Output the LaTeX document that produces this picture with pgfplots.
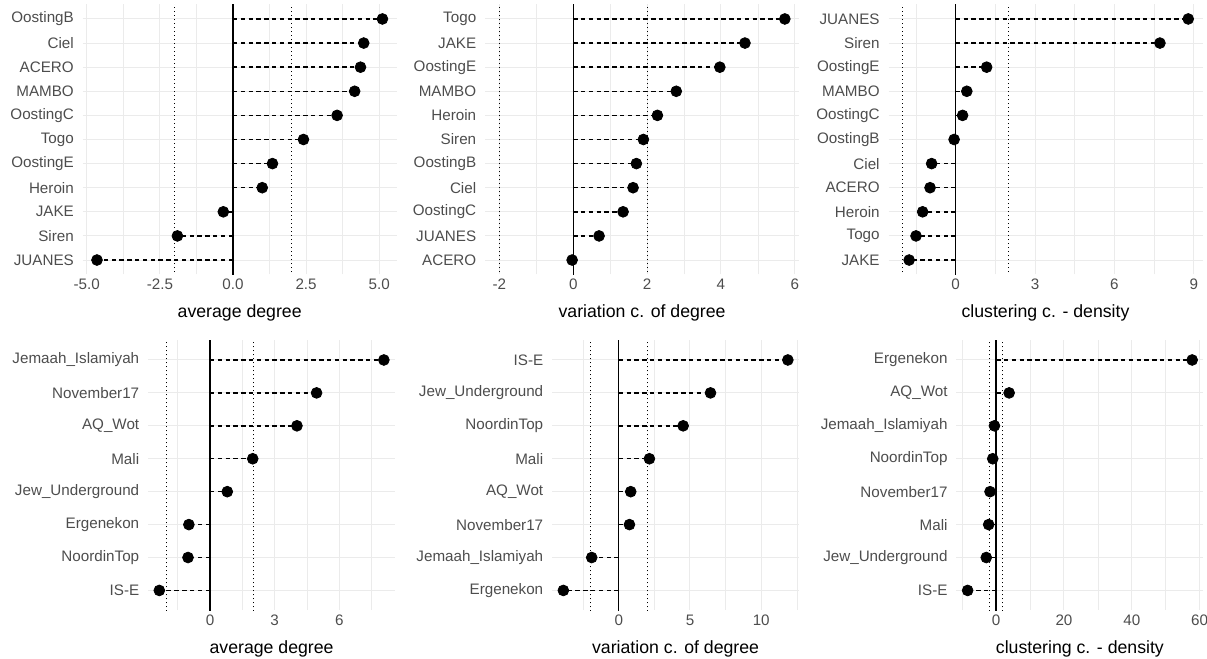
\documentclass[border=0pt]{standalone}
\usepackage{pgfplots}
\pgfplotsset{compat=1.18}
\usepackage{pgfplotstable}
\usepackage{fontspec}
\setmainfont{Liberation Sans}
\definecolor{gridgray}{HTML}{EBEBEB}
\definecolor{tickgray}{HTML}{4D4D4D}
\newcommand{\ticksize}{\fontsize{7.6bp}{9bp}\selectfont}
\newcommand{\titlesize}{\fontsize{8.85bp}{10.5bp}\selectfont}

% r = row (1 = bottom), v = value
\pgfplotstableread{
r v
1 -4.65
2 -1.90
3 -0.33
4 1.00
5 1.35
6 2.41
7 3.56
8 4.16
9 4.36
10 4.47
11 5.11
}\tA
\pgfplotstableread{
r v
1 -0.03
2 0.70
3 1.35
4 1.62
5 1.71
6 1.90
7 2.28
8 2.79
9 3.97
10 4.65
11 5.73
}\tB
\pgfplotstableread{
r v
1 -1.76
2 -1.50
3 -1.25
4 -0.97
5 -0.91
6 -0.06
7 0.26
8 0.42
9 1.17
10 7.72
11 8.79
}\tC
\pgfplotstableread{
r v
1 -2.35
2 -1.02
3 -0.98
4 0.80
5 1.98
6 4.03
7 4.94
8 8.06
}\tD
\pgfplotstableread{
r v
1 -3.89
2 -1.90
3 0.75
4 0.84
5 2.15
6 4.52
7 6.44
8 11.87
}\tE
\pgfplotstableread{
r v
1 -8.4
2 -2.9
3 -2.2
4 -1.8
5 -1.0
6 -0.5
7 3.84
8 57.8
}\tF

\pgfplotsset{
  lolli/.style={
    scale only axis, anchor=south west,
    height=135bp,
    axis line style={draw=none},
    major tick length=0pt, minor tick length=0pt,
    grid=both,
    major grid style={color=gridgray, line width=0.5bp},
    minor grid style={color=gridgray, line width=0.3bp},
    tick label style={font=\ticksize, text=tickgray},
    xticklabel style={anchor=north, inner sep=0pt, yshift=-2bp},
    yticklabel style={anchor=east, inner sep=0pt, xshift=-4.25bp},
    xlabel style={font=\titlesize, text=black, at={(axis description cs:0.5,0)}, anchor=center, yshift=-19.25bp},
    clip=true,
  },
  seg/.style={xcomb, black, line width=0.7bp, dash pattern=on 2.2bp off 1.7bp},
  pts/.style={only marks, mark=*, mark size=2.7bp, black},
  zl/.style={black, line width=0.65bp},
  dl/.style={black, line width=0.5bp, dash pattern=on 0.5bp off 1.5bp},
}

\begin{document}
\begin{tikzpicture}
\useasboundingbox (0,0) rectangle (603.5bp,329.5bp);

% ---------- top row ----------
\begin{axis}[lolli, at={(41.35bp,192.25bp)}, width=157bp,
  xmin=-5.138, xmax=5.598, ymin=0.4, ymax=11.6,
  xtick={-5,-2.5,0,2.5,5}, xticklabels={-5.0,-2.5,0.0,2.5,5.0},
  minor xtick={-3.75,-1.25,1.25,3.75},
  ytick={1,...,11},
  yticklabels={JUANES,Siren,JAKE,Heroin,OostingE,Togo,OostingC,MAMBO,ACERO,Ciel,OostingB},
  xlabel={average degree}]
\addplot[seg] table[x=v,y=r]{\tA};
\addplot[zl] coordinates {(0,0) (0,12)};
\addplot[dl] coordinates {(-2,0) (-2,12)};
\addplot[dl] coordinates {(2,0) (2,12)};
\addplot[pts] table[x=v,y=r]{\tA};
\end{axis}

\begin{axis}[lolli, at={(242.55bp,192.25bp)}, width=157bp,
  xmin=-2.3865, xmax=6.1165, ymin=0.4, ymax=11.6,
  xtick={-2,0,2,4,6}, xticklabels={-2,0,2,4,6},
  minor xtick={-1,1,3,5},
  ytick={1,...,11},
  yticklabels={ACERO,JUANES,OostingC,Ciel,OostingB,Siren,Heroin,MAMBO,OostingE,JAKE,Togo},
  xlabel={variation c. of degree}]
\addplot[seg] table[x=v,y=r]{\tB};
\addplot[zl] coordinates {(0,0) (0,12)};
\addplot[dl] coordinates {(-2,0) (-2,12)};
\addplot[dl] coordinates {(2,0) (2,12)};
\addplot[pts] table[x=v,y=r]{\tB};
\end{axis}

\begin{axis}[lolli, at={(444.25bp,192.25bp)}, width=157bp,
  xmin=-2.54, xmax=9.33, ymin=0.4, ymax=11.6,
  xtick={0,3,6,9}, xticklabels={0,3,6,9},
  minor xtick={-1.5,1.5,4.5,7.5},
  ytick={1,...,11},
  yticklabels={JAKE,Togo,Heroin,ACERO,Ciel,OostingB,OostingC,MAMBO,OostingE,Siren,JUANES},
  xlabel={clustering c. - density}]
\addplot[seg] table[x=v,y=r]{\tC};
\addplot[zl] coordinates {(0,0) (0,12)};
\addplot[dl] coordinates {(-2,0) (-2,12)};
\addplot[dl] coordinates {(2,0) (2,12)};
\addplot[pts] table[x=v,y=r]{\tC};
\end{axis}

% ---------- bottom row ----------
\begin{axis}[lolli, at={(74.05bp,24.4bp)}, width=123.5bp,
  xmin=-2.87, xmax=8.58, ymin=0.4, ymax=8.6,
  xtick={0,3,6}, xticklabels={0,3,6},
  minor xtick={-1.5,1.5,4.5,7.5},
  ytick={1,...,8},
  yticklabels={IS-E,NoordinTop,Ergenekon,Jew\_Underground,Mali,AQ\_Wot,November17,Jemaah\_Islamiyah},
  xlabel={average degree}]
\addplot[seg] table[x=v,y=r]{\tD};
\addplot[zl] coordinates {(0,0) (0,9)};
\addplot[dl] coordinates {(-2,0) (-2,9)};
\addplot[dl] coordinates {(2,0) (2,9)};
\addplot[pts] table[x=v,y=r]{\tD};
\end{axis}

\begin{axis}[lolli, at={(276.05bp,24.4bp)}, width=123.5bp,
  xmin=-4.68, xmax=12.66, ymin=0.4, ymax=8.6,
  xtick={0,5,10}, xticklabels={0,5,10},
  minor xtick={-2.5,2.5,7.5,12.5},
  ytick={1,...,8},
  yticklabels={Ergenekon,Jemaah\_Islamiyah,November17,AQ\_Wot,Mali,NoordinTop,Jew\_Underground,IS-E},
  xlabel={variation c. of degree}]
\addplot[seg] table[x=v,y=r]{\tE};
\addplot[zl] coordinates {(0,0) (0,9)};
\addplot[dl] coordinates {(-2,0) (-2,9)};
\addplot[dl] coordinates {(2,0) (2,9)};
\addplot[pts] table[x=v,y=r]{\tE};
\end{axis}

\begin{axis}[lolli, at={(478.2bp,24.4bp)}, width=123.5bp,
  xmin=-11.71, xmax=61.11, ymin=0.4, ymax=8.6,
  xtick={0,20,40,60}, xticklabels={0,20,40,60},
  minor xtick={-10,10,30,50},
  ytick={1,...,8},
  yticklabels={IS-E,Jew\_Underground,Mali,November17,NoordinTop,Jemaah\_Islamiyah,AQ\_Wot,Ergenekon},
  xlabel={clustering c. - density}]
\addplot[seg] table[x=v,y=r]{\tF};
\addplot[zl] coordinates {(0,0) (0,9)};
\addplot[dl] coordinates {(-2,0) (-2,9)};
\addplot[dl] coordinates {(2,0) (2,9)};
\addplot[pts] table[x=v,y=r]{\tF};
\end{axis}
\end{tikzpicture}
\end{document}
